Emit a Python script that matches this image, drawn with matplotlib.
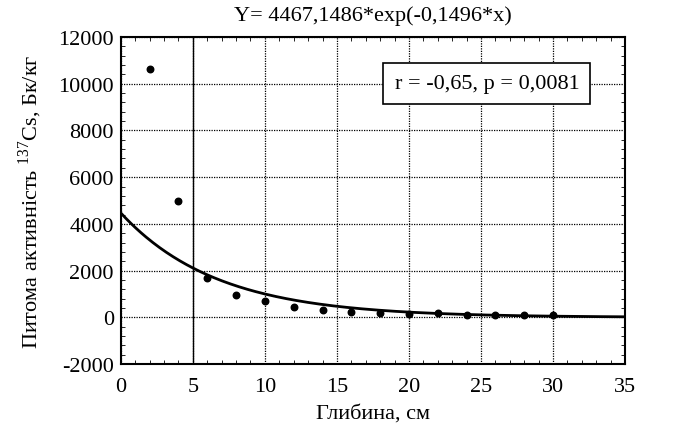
import numpy as np
import matplotlib
matplotlib.use('Agg')
import matplotlib.pyplot as plt
from matplotlib.ticker import MultipleLocator

plt.rcParams['font.family'] = ['Liberation Serif', 'DejaVu Serif']
plt.rcParams['mathtext.fontset'] = 'custom'
plt.rcParams['mathtext.rm'] = 'Liberation Serif'
plt.rcParams['axes.unicode_minus'] = False

# дані
depth = [2, 4, 6, 8, 10, 12, 14, 16, 18, 20, 22, 24, 26, 28, 30]
activity = [10650, 5000, 1700, 950, 720, 460, 330, 250, 180, 130, 170, 120, 90, 80, 110]
a_coef = 4467.1486
b_coef = -0.1496

fig = plt.figure(figsize=(6.75, 4.27), dpi=100)
ax = fig.add_axes([0.179, 0.145, 0.747, 0.766])

xs = np.linspace(0, 35, 300)
ax.plot(xs, a_coef * np.exp(b_coef * xs), color='black', lw=2)
ax.scatter(depth, activity, s=22, color='black', zorder=3)

ax.set_xlim(0, 35)
ax.set_ylim(-2000, 12000)
ax.xaxis.set_major_locator(MultipleLocator(5))
ax.xaxis.set_minor_locator(MultipleLocator(1))
ax.yaxis.set_major_locator(MultipleLocator(2000))
ax.yaxis.set_minor_locator(MultipleLocator(400))
ax.tick_params(which='both', direction='in', top=True, right=True, labelsize=16)
ax.tick_params(which='major', length=0, pad=5)
ax.tick_params(axis='x', which='major', pad=9)
ax.tick_params(which='minor', length=3)
ax.grid(True, which='major', color='black', linestyle=(0, (1, 1)), lw=0.9)
ax.axvline(5, color='black', lw=1)
for s in ax.spines.values():
    s.set_linewidth(1.5)

ax.set_title('Y= 4467,1486*exp(-0,1496*x)', fontsize=16, pad=12)
ax.set_xlabel('Глибина, см', fontsize=16, labelpad=6)
ax.set_ylabel('Питома активність $^{137}$Cs, Бк/кг', fontsize=16, labelpad=10)

ax.text(0.726, 0.859, 'r = -0,65, p = 0,0081', transform=ax.transAxes, fontsize=16,
        ha='center', va='center',
        bbox=dict(boxstyle='square,pad=0.5', facecolor='white', edgecolor='black', lw=1.2))

fig.savefig('out.png', dpi=100)
